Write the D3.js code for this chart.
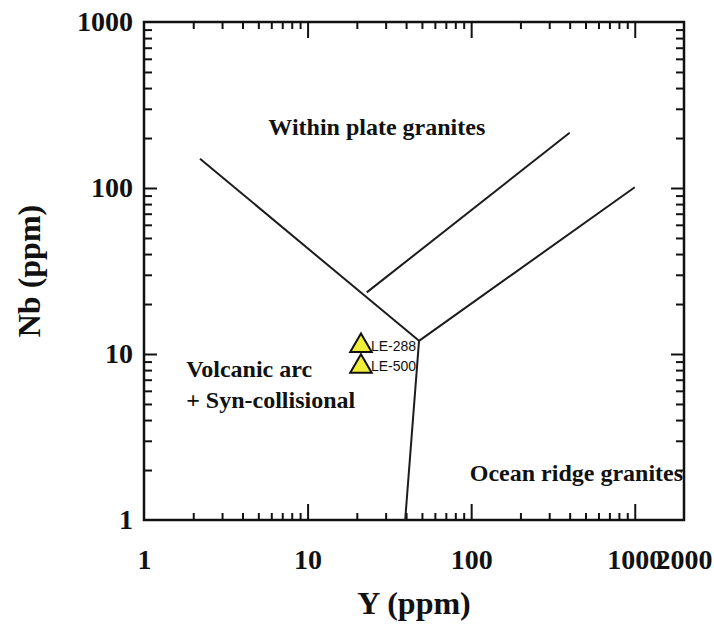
<!DOCTYPE html>
<html lang="en">
<head>
  <meta charset="UTF-8">
  <title>Nb - Y discrimination diagram</title>
  <script src="https://d3js.org/d3.v7.min.js"></script>
  <style>
    body {
      margin: 0;
      background: #fff;
    }

    .tick-label text {
      font-family: "Liberation Serif", "Times New Roman", serif;
      font-weight: bold;
      font-size: 28px;
      fill: #111;
    }

    .axis path.domain {
      display: none;
    }

    .axis line {
      stroke: #111;
      stroke-width: 2px;
    }

    .axis-title, .region-label {
      font-family: "Liberation Serif", "Times New Roman", serif;
      font-weight: bold;
      fill: #111;
    }

    .boundary {
      fill: none;
      stroke: #1c1c1c;
      stroke-width: 2px;
    }

    .sample-label {
      font-family: "Liberation Sans", Arial, sans-serif;
      font-size: 14px;
      fill: #111;
    }
  </style>
</head>
<body>
  <svg width="714" height="628"></svg>

  <script>
    // axis ticks
    const xLabelTicks = [1, 10, 100, 1000, 2000];
    const xMajorTicks = [10, 100, 1000];
    const yLabelTicks = [1, 10, 100, 1000];
    const yMajorTicks = [10, 100];

    // field boundaries (Y, Nb)
    const lineVagWpg = [[2.2, 150], [48, 12]];
    const lineWpgInner = [[23, 23.5], [400, 215]];
    const lineWpgOrg = [[48, 12], [1000, 101]];
    const lineVagOrg = [[48, 12], [39.5, 1]];

    // samples
    const sampleNames = ["LE-288", "LE-500"];
    const sampleY = [21.2, 21.2];
    const sampleNb = [11.2, 8.4];

    // field names
    const regionNames = ["Within plate granites", "Volcanic arc", "+ Syn-collisional", "Ocean ridge granites"];
    const regionY = [26.5, 1.81, 1.81, 98];
    const regionNb = [208, 7.3, 4.7, 1.72];
    const regionAnchor = ["middle", "start", "start", "start"];

    const svg = d3.select("svg");
    const mLeft = 144, mRight = 684, mTop = 22, mBottom = 520;

    const x = d3.scaleLog().domain([1, 2000]).range([mLeft, mRight]);
    const y = d3.scaleLog().domain([1, 1000]).range([mBottom, mTop]);

    function minorTicks(lo, hi) {
      const out = [];
      for (let d = lo; d < hi; d *= 10) {
        for (let k = 2; k <= 9; k++) {
          if (d * k < hi) out.push(d * k);
        }
      }
      return out;
    }
    const xMinor = minorTicks(1, 2000);
    const yMinor = minorTicks(1, 1000);

    // bottom / top ticks, pointing in
    svg.append("g").attr("class", "axis")
      .attr("transform", `translate(0,${mBottom})`)
      .call(d3.axisBottom(x).tickValues(xMinor).tickSizeInner(-7).tickSizeOuter(0).tickFormat(""));
    svg.append("g").attr("class", "axis")
      .attr("transform", `translate(0,${mBottom})`)
      .call(d3.axisBottom(x).tickValues(xMajorTicks).tickSizeInner(-16).tickSizeOuter(0).tickFormat(""));
    svg.append("g").attr("class", "axis")
      .attr("transform", `translate(0,${mTop})`)
      .call(d3.axisTop(x).tickValues(xMinor).tickSizeInner(-7).tickSizeOuter(0).tickFormat(""));
    svg.append("g").attr("class", "axis")
      .attr("transform", `translate(0,${mTop})`)
      .call(d3.axisTop(x).tickValues(xMajorTicks).tickSizeInner(-16).tickSizeOuter(0).tickFormat(""));

    // left / right ticks
    svg.append("g").attr("class", "axis")
      .attr("transform", `translate(${mLeft},0)`)
      .call(d3.axisLeft(y).tickValues(yMinor).tickSizeInner(-8).tickSizeOuter(0).tickFormat(""));
    svg.append("g").attr("class", "axis")
      .attr("transform", `translate(${mLeft},0)`)
      .call(d3.axisLeft(y).tickValues(yMajorTicks).tickSizeInner(-13).tickSizeOuter(0).tickFormat(""));
    svg.append("g").attr("class", "axis")
      .attr("transform", `translate(${mRight},0)`)
      .call(d3.axisRight(y).tickValues(yMinor).tickSizeInner(-8).tickSizeOuter(0).tickFormat(""));
    svg.append("g").attr("class", "axis")
      .attr("transform", `translate(${mRight},0)`)
      .call(d3.axisRight(y).tickValues(yMajorTicks).tickSizeInner(-13).tickSizeOuter(0).tickFormat(""));

    // tick labels (1000 and 2000 run into each other, as in the original)
    svg.append("g").attr("class", "axis tick-label")
      .attr("transform", `translate(0,${mBottom})`)
      .call(d3.axisBottom(x).tickValues(xLabelTicks).tickSize(0).tickPadding(29).tickFormat(d3.format("d")));
    svg.append("g").attr("class", "axis tick-label")
      .attr("transform", `translate(${mLeft},0)`)
      .call(d3.axisLeft(y).tickValues(yLabelTicks).tickSize(0).tickPadding(11).tickFormat(d3.format("d")));

    // frame
    svg.append("rect")
      .attr("x", mLeft).attr("y", mTop)
      .attr("width", mRight - mLeft).attr("height", mBottom - mTop)
      .attr("fill", "none").attr("stroke", "#111").attr("stroke-width", 2.5);

    // boundaries
    const line = d3.line().x(d => x(d[0])).y(d => y(d[1]));
    [lineVagWpg, lineWpgInner, lineWpgOrg, lineVagOrg].forEach(pts => {
      svg.append("path").attr("class", "boundary").attr("d", line(pts));
    });

    // field names
    svg.selectAll(".region-label")
      .data(regionNames)
      .enter().append("text")
      .attr("class", "region-label")
      .attr("x", (d, i) => x(regionY[i]))
      .attr("y", (d, i) => y(regionNb[i]))
      .attr("text-anchor", (d, i) => regionAnchor[i])
      .style("font-size", "24px")
      .text(d => d);

    // samples
    const tri = d3.symbol().type(d3.symbolTriangle).size(200);
    const samples = svg.append("g").selectAll("g")
      .data(sampleNames)
      .enter().append("g")
      .attr("transform", (d, i) => `translate(${x(sampleY[i])},${y(sampleNb[i])})`);

    samples.append("path")
      .attr("d", tri)
      .attr("fill", "#f1ee3a")
      .attr("stroke", "#111")
      .attr("stroke-width", 2);

    samples.append("text")
      .attr("class", "sample-label")
      .attr("x", 10)
      .attr("dy", "0.35em")
      .text(d => d);

    // axis titles
    svg.append("text")
      .attr("class", "axis-title")
      .attr("x", x(Math.sqrt(2000)))
      .attr("y", 614)
      .attr("text-anchor", "middle")
      .style("font-size", "32px")
      .text("Y (ppm)");

    svg.append("text")
      .attr("class", "axis-title")
      .attr("transform", `translate(40,${y(Math.sqrt(1000))}) rotate(-90)`)
      .attr("text-anchor", "middle")
      .style("font-size", "32px")
      .text("Nb (ppm)");
  </script>
</body>
</html>
